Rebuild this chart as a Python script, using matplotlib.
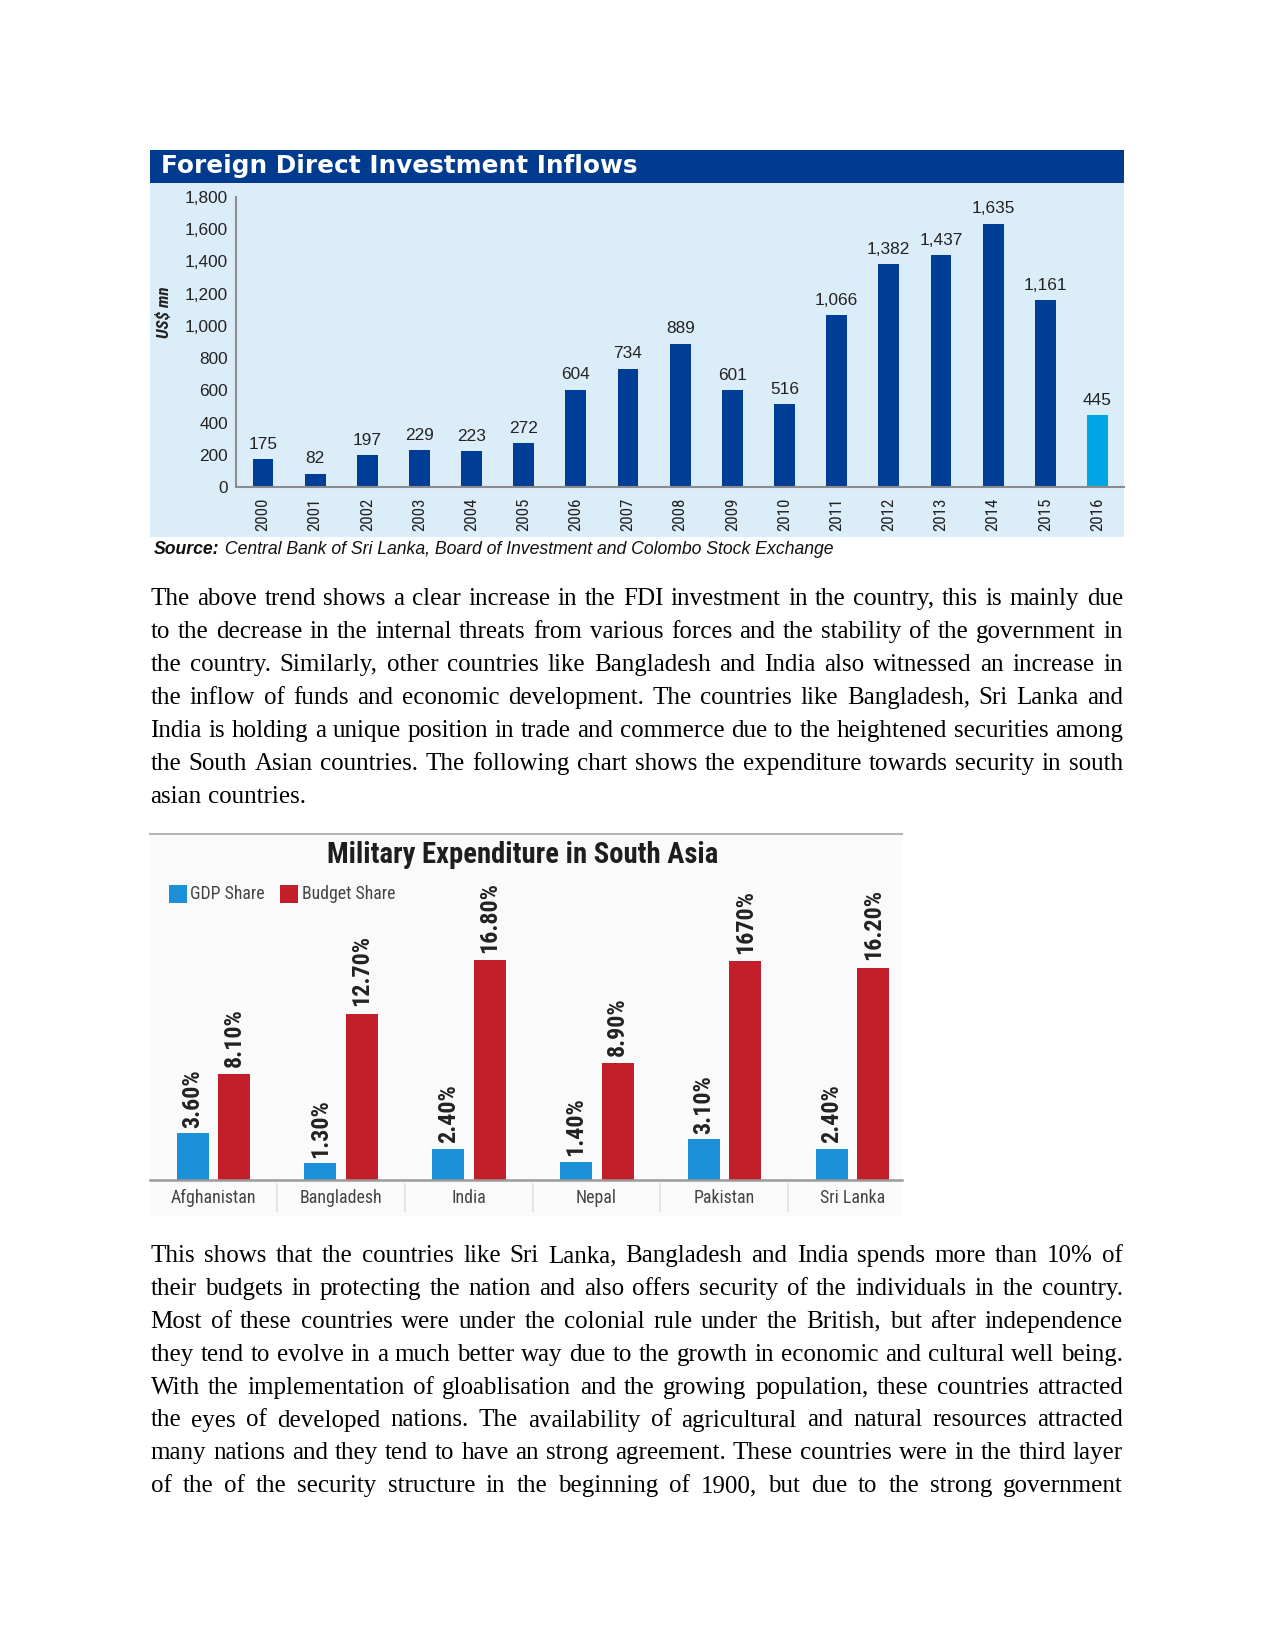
import matplotlib
matplotlib.use('Agg')
import matplotlib.pyplot as plt
from matplotlib.patches import Rectangle
from matplotlib.lines import Line2D
from matplotlib import font_manager as fm

# chart 1 data
years = ['2000', '2001', '2002', '2003', '2004', '2005', '2006', '2007', '2008',
         '2009', '2010', '2011', '2012', '2013', '2014', '2015', '2016']
fdi = [175, 82, 197, 229, 223, 272, 604, 734, 889, 601, 516, 1066, 1382, 1437, 1635, 1161, 445]
fdi_ticks = [0, 200, 400, 600, 800, 1000, 1200, 1400, 1600, 1800]

# chart 2 data
countries = ['Afghanistan', 'Bangladesh', 'India', 'Nepal', 'Pakistan', 'Sri Lanka']
gdp_share = [3.6, 1.3, 2.4, 1.4, 3.1, 2.4]
budget_share = [8.1, 12.7, 16.8, 8.9, 16.7, 16.2]
gdp_labels = ['3.60%', '1.30%', '2.40%', '1.40%', '3.10%', '2.40%']
budget_labels = ['8.10%', '12.70%', '16.80%', '8.90%', '1670%', '16.20%']

para1 = [
    "The above trend shows a clear increase in the FDI investment in the country, this is mainly due",
    "to the decrease in the internal threats from various forces and the stability of the government in",
    "the country. Similarly, other countries like Bangladesh and India also witnessed an increase in",
    "the inflow of funds and economic development. The countries like Bangladesh, Sri Lanka and",
    "India is holding a unique position in trade and commerce due to the heightened securities among",
    "the South Asian countries. The following chart shows the expenditure towards security in south",
    "asian countries.",
]
para2 = [
    "This shows that the countries like Sri Lanka, Bangladesh and India spends more than 10% of",
    "their budgets in protecting the nation and also offers security of the individuals in the country.",
    "Most of these countries were under the colonial rule under the British, but after independence",
    "they tend to evolve in a much better way due to the growth in economic and cultural well being.",
    "With the implementation of gloablisation and the growing population, these countries attracted",
    "the eyes of developed nations. The availability of agricultural and natural resources attracted",
    "many nations and they tend to have an strong agreement. These countries were in the third layer",
    "of the of the security structure in the beginning of 1900, but due to the strong government",
]


def pick(*names):
    for n in names:
        try:
            fm.findfont(fm.FontProperties(family=n), fallback_to_default=False)
            return n
        except ValueError:
            pass
    return 'DejaVu Sans'


NARROW = pick('Liberation Sans Narrow', 'Roboto Condensed', 'Liberation Sans')
SANS = pick('Liberation Sans', 'DejaVu Sans')
SERIF = pick('Liberation Serif', 'Times New Roman', 'DejaVu Serif')

W, H = 1275, 1651
fig = plt.figure(figsize=(W / 150, H / 150), dpi=150)
renderer = fig.canvas.get_renderer()


def fx(x):
    return x / W


def fy(y):
    return 1 - y / H


def box(x0, y0, x1, y1):
    return [x0 / W, 1 - y1 / H, (x1 - x0) / W, (y1 - y0) / H]


def rect(x0, y0, x1, y1, color, **kw):
    fig.add_artist(Rectangle((fx(x0), fy(y1)), (x1 - x0) / W, (y1 - y0) / H,
                             transform=fig.transFigure, color=color, lw=0, **kw))


def fit(t, width):
    w = t.get_window_extent(renderer).width
    t.set_fontsize(t.get_fontsize() * width / w)


# ---------------- chart 1: FDI ----------------
rect(150, 150, 1124, 537, '#dcedfa', zorder=0)
rect(150, 150, 1124, 183, '#003b8f', zorder=1)
t = fig.text(fx(161), fy(166.5), 'Foreign Direct Investment Inflows', color='white',
             fontsize=12, fontweight='bold', family='DejaVu Sans', va='center')
fit(t, 476)

ax1 = fig.add_axes(box(236, 197, 1124, 487))
ax1.set_facecolor('none')
colors = ['#003d96'] * (len(fdi) - 1) + ['#00a5e6']
ax1.bar(range(len(fdi)), fdi, width=0.4, color=colors)
ax1.set_xlim(-0.518, 16.51)
ax1.set_ylim(0, 1800)
ax1.set_yticks(fdi_ticks)
ax1.set_yticklabels([f'{v:,}' for v in fdi_ticks], family=SANS, fontsize=8.3, color='#222222')
ax1.set_xticks(range(len(years)))
ax1.set_xticklabels(years, rotation=90, family=NARROW, fontsize=8.2, color='#222222', va='top')
ax1.tick_params(axis='y', length=0, pad=3.8)
ax1.tick_params(axis='x', length=0, pad=5.0)
for s in ['top', 'right']:
    ax1.spines[s].set_visible(False)
for s in ['left', 'bottom']:
    ax1.spines[s].set_color('#8c8c8c')
    ax1.spines[s].set_linewidth(1)
for i, v in enumerate(fdi):
    ax1.annotate(f'{v:,}', (i, v), xytext=(0, 3.5), textcoords='offset points',
                 ha='center', va='bottom', family=SANS, fontsize=8.3, color='#222222')

fig.text(fx(164), fy(312), 'US$ mn', rotation=90, ha='center', va='center', family=NARROW,
         fontsize=8.3, fontweight='bold', fontstyle='italic', color='#222222')

s1 = fig.text(fx(154), fy(549), 'Source:', family=SANS, fontsize=7, fontweight='bold',
              fontstyle='italic', va='center', color='#111111')
s2 = fig.text(0, fy(549), ' Central Bank of Sri Lanka, Board of Investment and Colombo Stock Exchange',
              family=SANS, fontsize=7, fontstyle='italic', va='center', color='#111111')
w1 = s1.get_window_extent(renderer).width
w2 = s2.get_window_extent(renderer).width
scale = 685 / (w1 + w2)
s1.set_fontsize(7 * scale)
s2.set_fontsize(7 * scale)
s2.set_x(fx(154 + w1 * scale))

# ---------------- chart 2: military expenditure ----------------
rect(150, 835, 902, 1216, '#fafafa', zorder=0)
fig.add_artist(Line2D([fx(150), fx(902)], [fy(834), fy(834)], transform=fig.transFigure,
                      color='#b5b5b5', lw=1))
t = fig.text(fx(523), fy(855), 'Military Expenditure in South Asia', ha='center', va='center',
             family=NARROW, fontsize=13, fontweight='bold', color='#1e1e1e')
fit(t, 390)

gdp_color = '#1b8fd8'
bud_color = '#c21f2b'
rect(169, 885, 187, 903, gdp_color)
fig.text(fx(190), fy(894), 'GDP Share', family=NARROW, fontsize=8.5, color='#444444', va='center')
rect(280, 885, 298, 903, bud_color)
fig.text(fx(302), fy(894), 'Budget Share', family=NARROW, fontsize=8.5, color='#444444', va='center')

ax2 = fig.add_axes(box(150, 918, 902, 1180))
ax2.set_facecolor('none')
xs = list(range(len(countries)))
ax2.bar([x - 0.16 for x in xs], gdp_share, width=0.25, color=gdp_color)
ax2.bar([x + 0.165 for x in xs], budget_share, width=0.25, color=bud_color)
ax2.set_xlim(-0.493, 5.39)
ax2.set_ylim(0, 20)
ax2.set_yticks([])
ax2.set_xticks(xs)
ax2.set_xticklabels(countries, family=NARROW, fontsize=8.6, color='#444444')
ax2.tick_params(axis='x', length=0, pad=4.5)
for s in ['top', 'right', 'left']:
    ax2.spines[s].set_visible(False)
ax2.spines['bottom'].set_color('#9a9a9a')
ax2.spines['bottom'].set_linewidth(1.2)
ax2.vlines([x + 0.5 for x in xs[:-1]], -32 / 262, -3 / 262, transform=ax2.get_xaxis_transform(),
           color='#e0e0e0', lw=0.8, clip_on=False)
for x, v, lab in zip(xs, gdp_share, gdp_labels):
    ax2.annotate(lab, (x - 0.16, v), xytext=(0, 2.5), textcoords='offset points', rotation=90,
                 ha='center', va='bottom', family=NARROW, fontsize=11.5, fontweight='bold',
                 color='#222222')
for x, v, lab in zip(xs, budget_share, budget_labels):
    ax2.annotate(lab, (x + 0.165, v), xytext=(0, 3.5), textcoords='offset points', rotation=90,
                 ha='center', va='bottom', family=NARROW, fontsize=11.5, fontweight='bold',
                 color='#222222')

# ---------------- body text (justified) ----------------
TEXT_L, TEXT_R = 150.5, 1123


def paragraph(lines, y0, step, justify_last):
    for k, line in enumerate(lines):
        y = fy(y0 + k * step)
        words = line.split()
        texts = [fig.text(0, y, w, family=SERIF, fontsize=12, va='baseline', color='black')
                 for w in words]
        widths = [t.get_window_extent(renderer).width for t in texts]
        if (k < len(lines) - 1 or justify_last) and len(words) > 1:
            gap = (TEXT_R - TEXT_L - sum(widths)) / (len(words) - 1)
        else:
            gap = 6.25
        x = TEXT_L
        for t, w in zip(texts, widths):
            t.set_x(fx(x))
            x += w + gap


paragraph(para1, 605, 33, False)
paragraph(para2, 1262, 32.9, True)

fig.savefig('out.png', dpi=150, facecolor='white')
